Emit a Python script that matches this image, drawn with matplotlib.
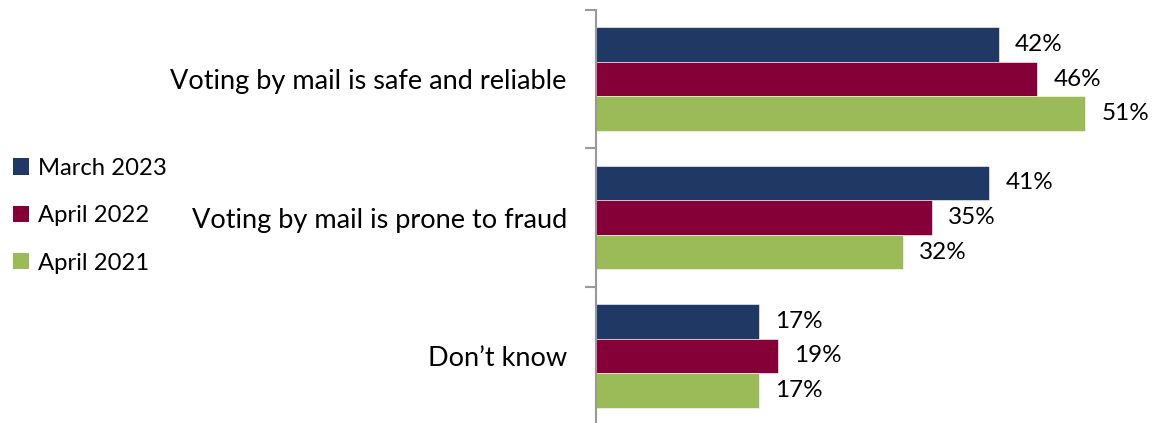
import matplotlib
matplotlib.use('Agg')
import matplotlib.pyplot as plt
from matplotlib.patches import Patch

plt.rcParams['font.family'] = ['Lato', 'DejaVu Sans']

categories = ['Voting by mail is safe and reliable',
              'Voting by mail is prone to fraud',
              'Don\u2019t know']
series_names = ['March 2023', 'April 2022', 'April 2021']
march_2023 = [42, 41, 17]
april_2022 = [46, 35, 19]
april_2021 = [51, 32, 17]

colors = ['#203864', '#860038', '#9BBB59']
values = [march_2023, april_2022, april_2021]

fig = plt.figure(figsize=(11.56, 4.23), dpi=100)
ax = fig.add_axes([596 / 1156, -2 / 423, 1 - 596 / 1156, 415 / 423])

bar_h = 0.25
for i, (vals, col) in enumerate(zip(values, colors)):
    pos = [c + (i - 1) * bar_h for c in range(len(categories))]
    ax.barh(pos, vals, height=bar_h, color=col, edgecolor='white', linewidth=0.4)
    for p, v in zip(pos, vals):
        ax.text(v + 1.7, p, f'{v}%', va='center', ha='left', fontsize=17.5)

ax.set_ylim(2.5, -0.5)
ax.set_xlim(0, 58.4)
ax.set_yticks([-0.5, 0.5, 1.5, 2.5])
ax.set_yticklabels([])
ax.set_yticks(range(len(categories)), minor=True)
ax.set_yticklabels(categories, minor=True, fontsize=19.5)
ax.tick_params(axis='y', which='minor', length=0, pad=21)
ax.tick_params(axis='y', which='major', length=8, width=1.5, color='#999999')
ax.set_xticks([])
for s in ['top', 'right', 'bottom']:
    ax.spines[s].set_visible(False)
ax.spines['left'].set_color('#999999')
ax.spines['left'].set_linewidth(1.5)

handles = [Patch(facecolor=c, label=n) for c, n in zip(colors, series_names)]
fig.legend(handles=handles, loc='center left', bbox_to_anchor=(0.0, 0.49),
           frameon=False, fontsize=17.2, handlelength=0.68, handleheight=0.68,
           handletextpad=0.35, labelspacing=1.1, borderpad=0.1, borderaxespad=0.45)

fig.savefig('out.png', dpi=100)
